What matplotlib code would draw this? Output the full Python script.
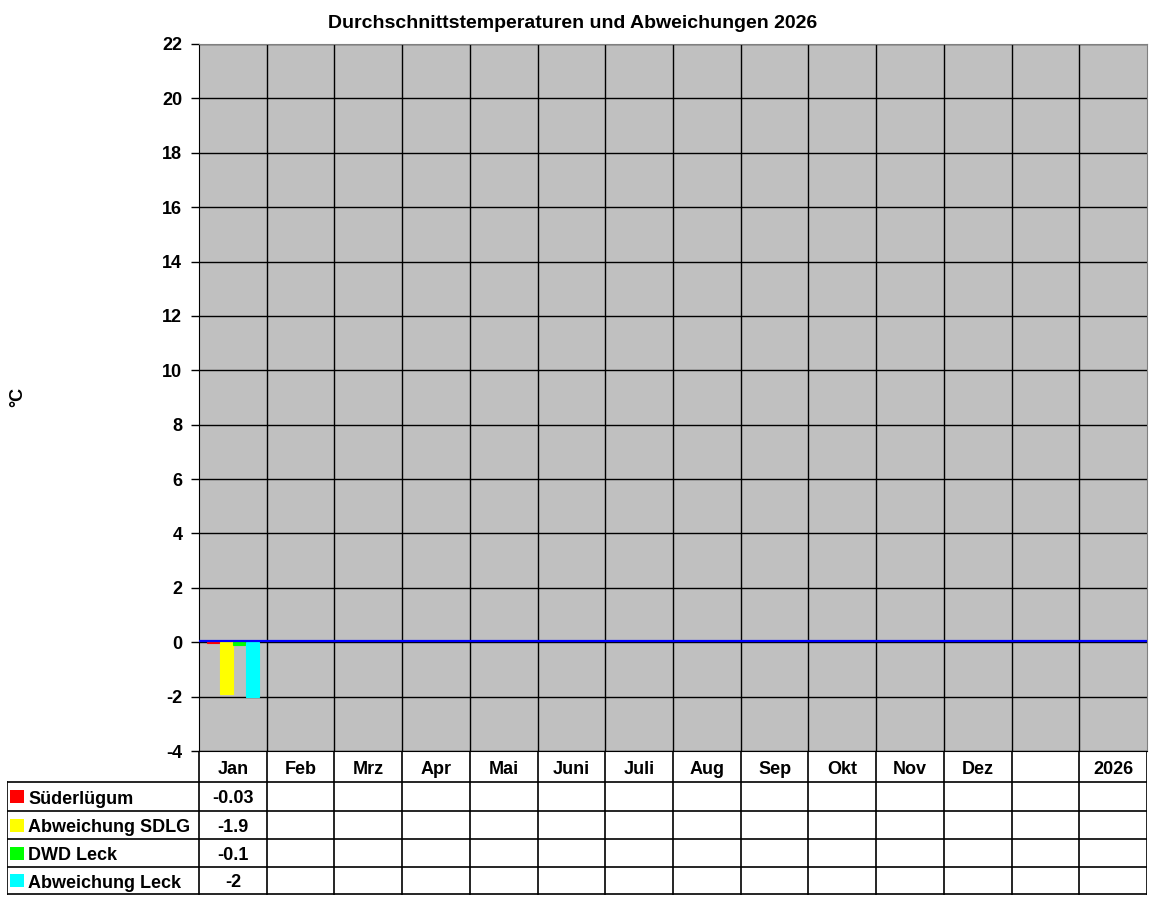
import matplotlib.pyplot as plt
import numpy as np

months = ["Jan", "Feb", "Mrz", "Apr", "Mai", "Juni", "Juli", "Aug", "Sep",
          "Okt", "Nov", "Dez", "", "2026"]
series_names = ["Süderlügum", "Abweichung SDLG", "DWD Leck", "Abweichung Leck"]
series_colors = ["#ff0000", "#ffff00", "#00ff00", "#00ffff"]
sdlg = [-0.03]
abw_sdlg = [-1.9]
dwd_leck = [-0.1]
abw_leck = [-2]
series_values = [sdlg, abw_sdlg, dwd_leck, abw_leck]
value_labels = [["-0.03"], ["-1.9"], ["-0.1"], ["-2"]]

W, H = 1152, 900
plt.rcParams["font.family"] = ["Liberation Sans", "DejaVu Sans"]
plt.rcParams["font.weight"] = "bold"
plt.rcParams["axes.unicode_minus"] = False
fig = plt.figure(figsize=(W / 100, H / 100), dpi=100)
fs = 13


def box(x0, y0, x1, y1):
    # pixel box (top-left origin) -> figure fraction rect
    return [x0 / W, 1 - y1 / H, (x1 - x0) / W, (y1 - y0) / H]


# main plot area
ax = fig.add_axes(box(199, 44, 1147, 751))
ax.set_facecolor("#c0c0c0")
n = len(months)
ax.set_xlim(-0.5, n - 0.5)
ax.set_ylim(-4, 22)
ax.set_xticks([])
ax.set_yticks(np.arange(-4, 23, 2))
ax.tick_params(axis="y", length=6, width=1, labelsize=fs, pad=6)
for lbl in ax.get_yticklabels():
    lbl.set_fontweight("bold")
ax.grid(axis="y", color="black", linewidth=1)
for k in range(1, n):
    ax.axvline(k - 0.5, color="black", linewidth=1)
ax.set_axisbelow(True)
ax.spines["left"].set_color("black")
ax.spines["top"].set_color("#808080")
ax.spines["right"].set_color("#808080")
ax.spines["bottom"].set_color("black")

width = 0.19
offsets = [-0.285, -0.09, 0.09, 0.285]
for vals, color, off in zip(series_values, series_colors, offsets):
    x = np.arange(len(vals)) + off
    ax.bar(x, vals, width=width, color=color, edgecolor=color,
           linewidth=0.8, zorder=3)
# zero line, nudged up a hair like the original so the tiny bars stay visible
ax.axhline(0.03, color="#0000ff", linewidth=1.6, zorder=4)

fig.text(573 / W, 1 - 23 / H, "Durchschnittstemperaturen und Abweichungen 2026",
         ha="center", va="center", fontsize=14, fontweight="bold")
fig.text(18 / W, 1 - 397 / H, "°C", rotation=90, ha="center", va="center",
         fontsize=fs, fontweight="bold")

# data table below the plot
tx0, tx1 = 7, 1147
unit = (1147 - 199) / n
tab = fig.add_axes(box(tx0, 751, tx1, 895))
left = -0.5 - (199 - tx0) / unit
tab.set_xlim(left, n - 0.5)
tab.set_ylim(895, 751)
tab.axis("off")
row_edges = [782, 811, 839, 867, 894]
lw = 1.2
for k in range(n + 1):
    tab.plot([k - 0.5, k - 0.5], [751, 894], color="black", lw=lw)
tab.plot([left + 0.005, left + 0.005], [782, 894], color="black", lw=lw)
for y in row_edges:
    tab.plot([left, n - 0.5], [y, y], color="black", lw=lw)

for i, m in enumerate(months):
    tab.text(i, 769, m, ha="center", va="center", fontsize=fs, fontweight="bold")

for r, (name, color) in enumerate(zip(series_names, series_colors)):
    yc = (row_edges[r] + row_edges[r + 1]) / 2
    tab.add_patch(plt.Rectangle((left + 0.045, yc - 6.5), 0.2, 13,
                                color=color, lw=0))
    tab.text(left + 0.31, yc + 3, name, ha="left", va="center",
             fontsize=fs, fontweight="bold")
    for i, txt in enumerate(value_labels[r]):
        tab.text(i, yc + 2, txt, ha="center", va="center",
                 fontsize=fs, fontweight="bold")

fig.savefig("out.png", dpi=100)
